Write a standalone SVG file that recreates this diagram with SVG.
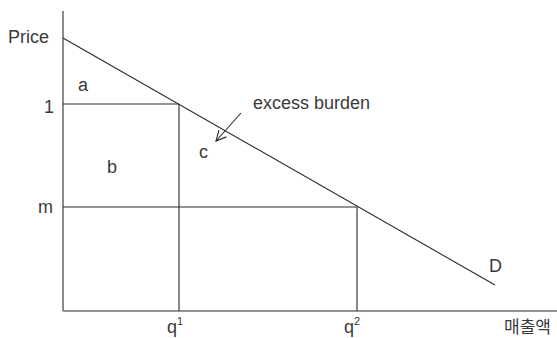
<svg xmlns="http://www.w3.org/2000/svg" width="557" height="338" viewBox="0 0 557 338">
<defs>
<style>
.axis{stroke:#6e6e6e;stroke-width:1.6;fill:none}
.ln{stroke:#2a2a2a;stroke-width:1.1;fill:none}
text{font-family:"Liberation Sans","Noto Sans CJK KR",sans-serif;font-size:18px;fill:#3a3a3a}
.kr{font-family:"Noto Sans CJK KR",sans-serif;font-size:17px}
</style>
<marker id="arr" viewBox="0 0 12 12" refX="11" refY="6" markerWidth="12" markerHeight="12" markerUnits="userSpaceOnUse" orient="auto">
<path d="M1,1 L11,6 L1,11" fill="none" stroke="#2a2a2a" stroke-width="1.1"/>
</marker>
</defs>
<g id="axes">
<line class="axis" x1="63" y1="11" x2="63" y2="311"/>
<line class="axis" x1="63" y1="311" x2="557" y2="311"/>
</g>
<g id="connectors">
<line class="ln" x1="63" y1="38" x2="495" y2="285"/>
<line class="ln" x1="63" y1="104" x2="179" y2="104"/>
<line class="ln" x1="179" y1="104" x2="179" y2="311"/>
<line class="ln" x1="63" y1="207" x2="357" y2="207"/>
<line class="ln" x1="357" y1="207" x2="357" y2="311"/>
<line class="ln" x1="241" y1="113" x2="216" y2="141" marker-end="url(#arr)"/>
</g>
<g id="labels">
<text x="8" y="43">Price</text>
<text x="44" y="113">1</text>
<text x="38" y="213">m</text>
<text x="78" y="91">a</text>
<text x="107" y="173">b</text>
<text x="199" y="158">c</text>
<text x="253" y="109">excess burden</text>
<text x="489" y="272">D</text>
<text x="167" y="333">q<tspan font-size="11" dy="-8">1</tspan></text>
<text x="344" y="333">q<tspan font-size="11" dy="-8">2</tspan></text>
<text class="kr" x="504" y="333">매출액</text>
</g>
</svg>
